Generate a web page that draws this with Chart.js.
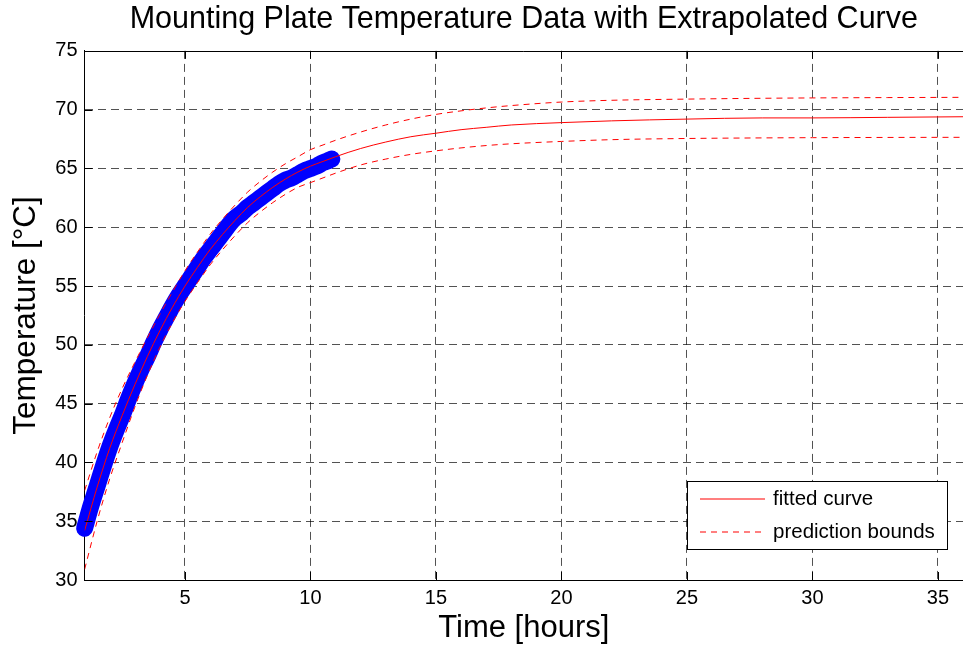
<!DOCTYPE html>
<html><head><meta charset="utf-8">
<script src="https://cdn.jsdelivr.net/npm/chart.js@4.4.0/dist/chart.umd.min.js"></script>
<style>html,body{margin:0;padding:0;background:#fff;overflow:hidden}canvas{display:block}</style>
</head><body>
<canvas id="c" width="963" height="648"></canvas>
<script>
const titleText = 'Mounting Plate Temperature Data with Extrapolated Curve';
const xTitle = 'Time [hours]';
const yTitle = 'Temperature [°C]';
const xTicks = [5, 10, 15, 20, 25, 30, 35];
const yTicks = [30, 35, 40, 45, 50, 55, 60, 65, 70, 75];

const dataTime = [1.00,1.25,1.50,1.75,2.00,2.25,2.50,2.75,3.00,3.25,3.50,3.75,4.00,4.25,4.50,4.75,5.00,5.25,5.50,5.75,6.00,6.25,6.50,6.75,7.00,7.25,7.50,7.75,8.00,8.25,8.50,8.75,9.00,9.25,9.50,9.75,10.00,10.25,10.50,10.75,10.85];
const dataTemp = [34.4,36.3,38.0,39.7,41.3,42.7,44.0,45.4,46.7,47.9,49.0,50.2,51.3,52.3,53.3,54.2,55.0,55.8,56.6,57.4,58.1,58.8,59.5,60.2,60.8,61.2,61.7,62.1,62.5,62.9,63.3,63.7,64.0,64.2,64.5,64.8,65.0,65.2,65.5,65.7,65.8];

const fitTime  = [1,1.5,2,2.5,3,3.5,4,4.5,5,5.5,6,6.5,7,7.5,8,8.5,9,9.5,10,10.5,11,12,13,14,15,16,17,18,20,22,25,28,30,33,36];
const fitTemp  = [34.2,37.9,41.2,44.0,46.6,49.0,51.2,53.2,55.0,56.6,58.1,59.4,60.6,61.7,62.6,63.4,64.1,64.7,65.2,65.6,66.0,66.7,67.25,67.7,68.0,68.3,68.5,68.7,68.9,69.05,69.2,69.3,69.3,69.35,69.4];
const upperTemp = [37.6,40.9,43.8,46.3,48.5,50.6,52.6,54.5,56.3,57.9,59.4,60.7,61.9,63.0,63.9,64.7,65.4,66.0,66.6,67.0,67.4,68.1,68.7,69.2,69.6,69.9,70.15,70.35,70.65,70.8,70.9,70.97,71.0,71.03,71.05];
const lowerTemp = [30.9,35.0,38.6,41.7,44.7,47.4,49.8,51.9,53.7,55.3,56.8,58.1,59.3,60.4,61.3,62.1,62.8,63.4,63.8,64.2,64.6,65.3,65.8,66.2,66.5,66.75,66.95,67.1,67.3,67.45,67.55,67.6,67.62,67.64,67.65];

const FONT = "'Liberation Sans', Arial, Helvetica, sans-serif";
const RED = 'rgb(255,0,0)';
const pts = (xs, ys) => xs.map((x, i) => ({x: x, y: ys[i]}));

const framePlugin = {
  id: 'frame',
  afterDatasetsDraw(chart) {
    const {ctx, chartArea: ca, scales: {x, y}} = chart;
    ctx.save();
    ctx.strokeStyle = '#000';
    ctx.lineWidth = 1;
    ctx.setLineDash([]);
    ctx.beginPath();
    const top = Math.round(ca.top) + 0.5;
    ctx.moveTo(ca.left, top); ctx.lineTo(ca.right, top);
    x.ticks.forEach(t => {
      const px = Math.round(x.getPixelForValue(t.value)) + 0.5;
      ctx.moveTo(px, ca.bottom); ctx.lineTo(px, ca.bottom - 8);
      ctx.moveTo(px, ca.top); ctx.lineTo(px, ca.top + 8);
    });
    y.ticks.forEach(t => {
      const py = Math.round(y.getPixelForValue(t.value)) + 0.5;
      ctx.moveTo(ca.left, py); ctx.lineTo(ca.left + 8, py);
    });
    ctx.stroke();
    ctx.restore();
  }
};

const legendItems = [
  {label: 'fitted curve', dash: []},
  {label: 'prediction bounds', dash: [6, 5]}
];

const legendPlugin = {
  id: 'boxLegend',
  afterDraw(chart) {
    const {ctx, chartArea: ca} = chart;
    const left = Math.round(ca.right - 276), top = Math.round(ca.bottom - 99), w = 260, h = 68;
    ctx.save();
    ctx.setLineDash([]);
    ctx.fillStyle = '#ffffff';
    ctx.fillRect(left, top, w, h);
    ctx.lineWidth = 1;
    ctx.strokeStyle = '#000000';
    ctx.strokeRect(left + 0.5, top + 0.5, w, h);
    legendItems.forEach((it, k) => {
      const yy = Math.round(top + 18 + k * 32.7);
      ctx.beginPath();
      ctx.setLineDash(it.dash);
      ctx.strokeStyle = RED;
      ctx.lineWidth = 1.2;
      ctx.moveTo(left + 13, yy);
      ctx.lineTo(left + 78, yy);
      ctx.stroke();
      ctx.setLineDash([]);
      ctx.fillStyle = '#000000';
      ctx.font = '20.5px ' + FONT;
      ctx.textBaseline = 'middle';
      ctx.textAlign = 'left';
      ctx.fillText(it.label, left + 86, yy);
    });
    ctx.restore();
  }
};

const gridColor = (edgeVals) => (c) => (c.tick && edgeVals.includes(c.tick.value)) ? 'rgba(0,0,0,0)' : 'rgba(0,0,0,0.68)';

new Chart(document.getElementById('c'), {
  type: 'scatter',
  data: {
    datasets: [
      {label: 'data', data: pts(dataTime, dataTemp), showLine: true, borderColor: '#0000ff', backgroundColor: '#0000ff',
       borderWidth: 17, borderCapStyle: 'round', borderJoinStyle: 'round', pointRadius: 0, tension: 0.3, order: 3, clip: false},
      {label: 'fitted curve', data: pts(fitTime, fitTemp), showLine: true, borderColor: RED,
       borderWidth: 1, pointRadius: 0, cubicInterpolationMode: 'monotone', order: 1},
      {label: 'prediction bounds', data: pts(fitTime, upperTemp), showLine: true, borderColor: RED,
       borderDash: [6, 5], borderWidth: 1, pointRadius: 0, cubicInterpolationMode: 'monotone', order: 2},
      {label: 'prediction bounds (lower)', data: pts(fitTime, lowerTemp), showLine: true, borderColor: RED,
       borderDash: [6, 5], borderWidth: 1, pointRadius: 0, cubicInterpolationMode: 'monotone', order: 2}
    ]
  },
  options: {
    responsive: false,
    animation: false,
    devicePixelRatio: 1,
    layout: {padding: 0},
    plugins: {
      legend: {display: false},
      tooltip: {enabled: false},
      title: {
        display: true, text: titleText, fullSize: false, color: '#000',
        font: {family: FONT, size: 30.5, weight: 'normal', lineHeight: 1},
        padding: {top: 4.2, bottom: 16.2}
      }
    },
    scales: {
      x: {
        type: 'linear', position: 'bottom', min: 1, max: 36,
        afterBuildTicks: s => { s.ticks = xTicks.map(v => ({value: v})); },
        afterFit: s => { s.height = 68; },
        ticks: {color: '#000', padding: 6.5, font: {family: FONT, size: 20}},
        grid: {color: gridColor([]), drawTicks: false, lineWidth: 1},
        border: {display: true, color: '#000', width: 1, dash: [8, 5]},
        title: {display: true, text: xTitle, color: '#000', font: {family: FONT, size: 31, lineHeight: 1}, padding: {top: 0, bottom: 3.8}}
      },
      y: {
        type: 'linear', position: 'left', min: 30, max: 75,
        afterBuildTicks: s => { s.ticks = yTicks.map(v => ({value: v})); },
        afterFit: s => { s.width = 84.6; },
        ticks: {color: '#000', padding: 7, font: {family: FONT, size: 20}},
        grid: {color: gridColor([30, 75]), drawTicks: false, lineWidth: 1},
        border: {display: true, color: '#000', width: 1, dash: [8, 5]},
        title: {display: true, text: yTitle, color: '#000', font: {family: FONT, size: 31.5, lineHeight: 1}, padding: {top: 11, bottom: 0}}
      }
    }
  },
  plugins: [framePlugin, legendPlugin]
});
</script>
</body></html>
